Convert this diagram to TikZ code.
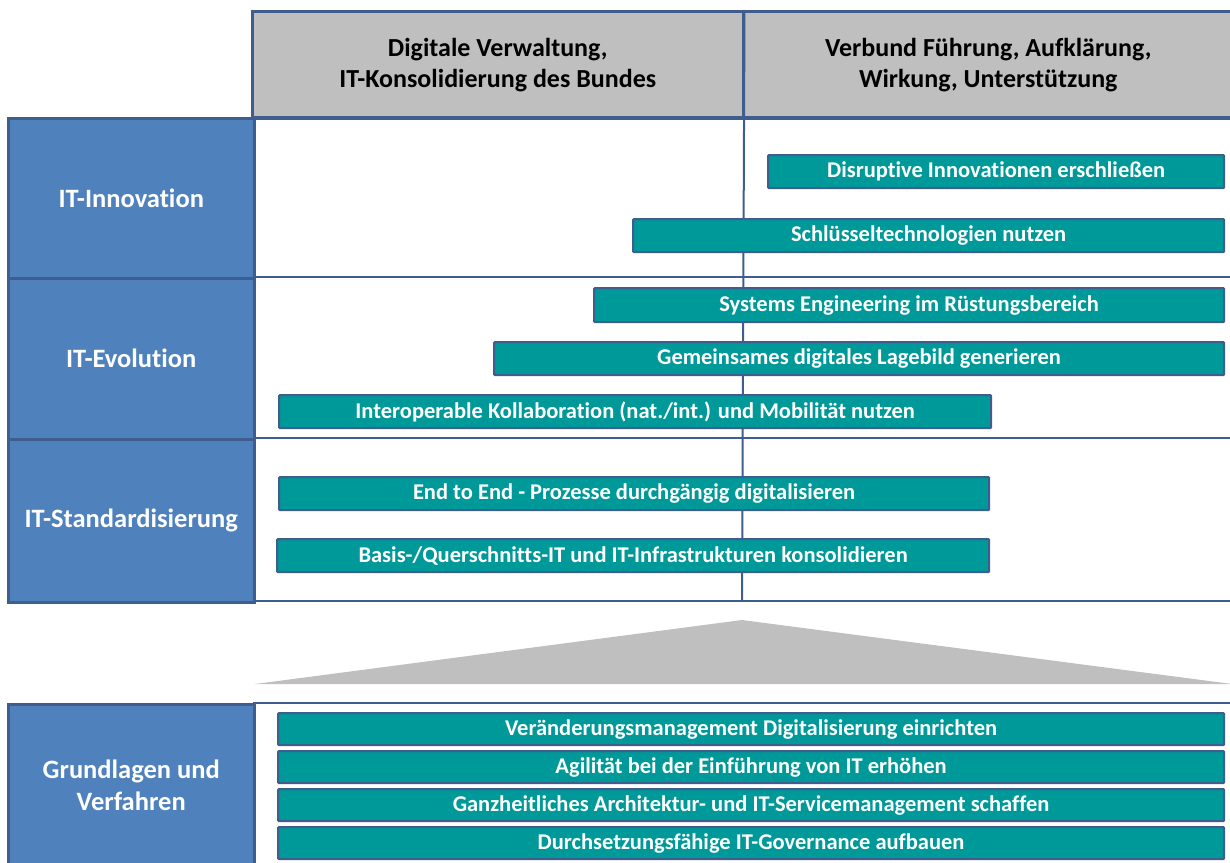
\documentclass[tikz,border=0pt]{standalone}
\usepackage{fontspec}
\setmainfont{Carlito}[Ligatures={NoCommon,NoContextual}]
\definecolor{frame}{HTML}{3F5D8D}
\definecolor{rowblue}{HTML}{4F81BD}
\definecolor{headgray}{HTML}{BFBFBF}
\definecolor{teal}{HTML}{009999}
\begin{document}
\begin{tikzpicture}[x=1pt,y=-1pt,
  head/.style={draw=frame,line width=2.5pt,fill=headgray,inner sep=0pt,
    align=center,font=\fontsize{26}{31}\selectfont\bfseries,text=black},
  rowlabel/.style={draw=frame,line width=2.5pt,fill=rowblue,inner sep=0pt,
    align=center,font=\fontsize{26.5}{32}\selectfont\bfseries,text=white},
  bar/.style={draw=frame,line width=2.2pt,fill=teal,inner sep=0pt,rounded corners=1pt,
    font=\fontsize{22.5}{24}\selectfont\bfseries,text=white},
  grid/.style={draw=frame,line width=2pt}]
\useasboundingbox (0,0) rectangle (1230,862);

% column headers
\node[head,minimum width=491,minimum height=107,anchor=north west] (h1) at (251,10)
  {Digitale Verwaltung,\\IT-Konsolidierung des Bundes};
\node[head,minimum width=490,minimum height=107,anchor=north west] (h2) at (742,10)
  {Verbund Führung, Aufklärung,\\Wirkung, Unterstützung};

% grid lines of the matrix
\coordinate (r0) at (253,117);
\coordinate (r1) at (253,277);
\coordinate (r2) at (253,438);
\coordinate (r3) at (253,601);
\draw[grid] (r0) -- (1232,117);
\draw[grid] (r1) -- (1232,277);
\draw[grid] (r2) -- (1232,438);
\draw[grid] (r3) -- (1232,601);
\draw[grid] (h1.north east) -- (742,601);

% row labels
\node[rowlabel,minimum width=246,minimum height=160,anchor=north west] (l1) at (7,117) {IT-Innovation};
\node[rowlabel,minimum width=246,minimum height=161,anchor=north west] (l2) at (7,277) {IT-Evolution};
\node[rowlabel,minimum width=246,minimum height=163,anchor=north west] (l3) at (7,438) {IT-Standardisierung};

% initiative bars
\node[bar,minimum width=456,minimum height=33,anchor=north west] (b1) at (767,154) {Disruptive Innovationen erschließen};
\node[bar,minimum width=591,minimum height=33,anchor=north west] (b2) at (632,218) {Schlüsseltechnologien nutzen};
\node[bar,minimum width=630,minimum height=34,anchor=north west] (b3) at (593,287) {Systems Engineering im Rüstungsbereich};
\node[bar,minimum width=730,minimum height=33,anchor=north west] (b4) at (493,341) {Gemeinsames digitales Lagebild generieren};
\node[bar,minimum width=712,minimum height=33,anchor=north west] (b5) at (278,394) {Interoperable Kollaboration (nat./int.) und Mobilität nutzen};
\node[bar,minimum width=710,minimum height=33,anchor=north west] (b6) at (278,476) {End to End - Prozesse durchgängig digitalisieren};
\node[bar,minimum width=712,minimum height=33,anchor=north west] (b7) at (276,538) {Basis-/Querschnitts-IT und IT-Infrastrukturen konsolidieren};

% roof
\fill[headgray] (742,620) -- (1232,684) -- (255,684) -- cycle;

% foundation
\node[rowlabel,minimum width=246,minimum height=162,anchor=north west] (l4) at (7,703) {Grundlagen und\\Verfahren};
\coordinate (f0) at (253,703);
\draw[grid] (f0) -- (1232,703);
\node[bar,minimum width=946,minimum height=32,anchor=north west] (g1) at (277,712) {Veränderungsmanagement Digitalisierung einrichten};
\node[bar,minimum width=946,minimum height=32,anchor=north west] (g2) at (277,750) {Agilität bei der Einführung von IT erhöhen};
\node[bar,minimum width=946,minimum height=32,anchor=north west] (g3) at (277,788) {Ganzheitliches Architektur- und IT-Servicemanagement schaffen};
\node[bar,minimum width=946,minimum height=32,anchor=north west] (g4) at (277,826) {Durchsetzungsfähige IT-Governance aufbauen};
\end{tikzpicture}
\end{document}
